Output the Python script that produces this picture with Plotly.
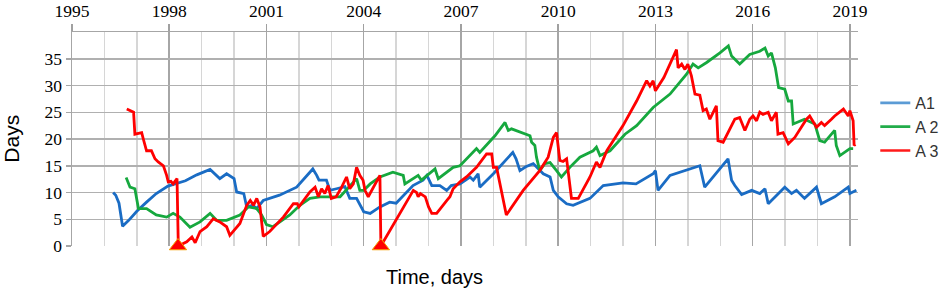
import plotly.graph_objects as go

# ---------------- data ----------------
year_ticks = [1995, 1998, 2001, 2004, 2007, 2010, 2013, 2016, 2019]
day_ticks = [0, 5, 10, 15, 20, 25, 30, 35]

a1_x = [1996.27, 1996.35, 1996.45, 1996.56, 1996.75, 1997.0, 1997.3, 1997.6, 1997.96, 1998.25,
        1998.5, 1998.85, 1999.26, 1999.56, 1999.77, 2000.0, 2000.08, 2000.3, 2000.39, 2000.58,
        2000.7, 2000.9, 2001.4, 2001.93, 2002.43, 2002.55, 2002.62, 2002.85, 2002.96, 2003.16,
        2003.42, 2003.57, 2003.78, 2004.0, 2004.2, 2004.5, 2004.8, 2005.0, 2005.52, 2005.83,
        2005.95, 2006.1, 2006.35, 2006.56, 2006.7, 2006.97, 2007.28, 2007.38, 2007.53, 2007.58,
        2008.0, 2008.6, 2008.7, 2008.82, 2009.0, 2009.23, 2009.54, 2009.75, 2009.85, 2010.0,
        2010.26, 2010.46, 2010.98, 2011.39, 2012.0, 2012.4, 2012.93, 2013.0, 2013.08, 2013.45,
        2014.37, 2014.52, 2015.24, 2015.35, 2015.45, 2015.66, 2015.97, 2016.22, 2016.38, 2016.48,
        2016.99, 2017.2, 2017.35, 2017.6, 2017.97, 2018.12, 2018.53, 2018.95, 2019.0, 2019.2]
a1_y = [10.0, 9.5, 8.0, 3.7, 4.8, 6.5, 8.2, 9.8, 11.2, 11.8,
        12.2, 13.3, 14.3, 12.6, 13.5, 12.6, 10.1, 9.8, 7.3, 7.6,
        7.0, 8.5, 9.5, 11.0, 14.4, 13.2, 12.3, 12.3, 10.4, 10.7,
        11.1, 8.9, 8.9, 6.4, 6.1, 7.3, 8.2, 8.0, 11.3, 12.3,
        13.2, 11.3, 11.3, 10.4, 11.3, 11.6, 12.9, 12.3, 13.5, 11.0,
        13.5, 17.5, 16.3, 14.1, 14.8, 15.4, 13.5, 12.9, 10.4, 9.2,
        7.9, 7.6, 8.9, 11.3, 11.8, 11.6, 13.5, 14.1, 10.4, 13.2,
        15.0, 11.0, 16.3, 12.3, 11.3, 9.6, 10.4, 9.8, 10.7, 7.9,
        11.0, 9.8, 10.4, 8.9, 11.0, 7.9, 9.2, 11.0, 9.8, 10.4]

a2_x = [1996.67, 1996.79, 1996.94, 1997.0, 1997.05, 1997.3, 1997.6, 1997.92, 1998.12, 1998.33,
        1998.64, 1998.95, 1999.26, 1999.46, 1999.77, 2000.18, 2000.44, 2000.7, 2000.85, 2001.0,
        2001.2, 2001.72, 2002.03, 2002.34, 2002.65, 2003.27, 2003.78, 2003.88, 2004.0, 2004.2,
        2004.5, 2004.9, 2005.22, 2005.27, 2005.68, 2005.78, 2006.2, 2006.3, 2006.76, 2006.97,
        2007.48, 2007.58, 2008.05, 2008.36, 2008.46, 2008.56, 2009.13, 2009.18, 2009.28, 2009.33,
        2009.43, 2009.59, 2009.75, 2009.95, 2010.1, 2010.36, 2010.67, 2011.08, 2011.18, 2011.29,
        2011.6, 2012.06, 2012.42, 2012.93, 2013.45, 2013.96, 2014.16, 2014.32, 2014.58, 2014.99,
        2015.25, 2015.35, 2015.6, 2015.91, 2016.22, 2016.38, 2016.48, 2016.58, 2016.7, 2016.8,
        2016.99, 2017.1, 2017.2, 2017.25, 2017.6, 2017.92, 2018.07, 2018.22, 2018.53, 2018.58,
        2018.69, 2019.0, 2019.1]
a2_y = [12.8, 11.0, 10.7, 8.9, 7.0, 7.0, 5.8, 5.4, 6.1, 5.4,
        3.5, 4.5, 6.1, 4.8, 4.8, 5.8, 7.3, 7.0, 5.8, 4.0,
        3.6, 5.8, 7.6, 8.9, 9.2, 9.2, 12.6, 10.4, 10.4, 11.6,
        12.9, 13.8, 13.2, 11.6, 13.2, 12.3, 14.4, 12.6, 14.7, 15.0,
        18.2, 17.5, 20.6, 23.1, 21.6, 21.9, 20.6, 19.4, 18.8, 16.6,
        14.1, 15.4, 15.6, 14.1, 12.9, 14.7, 16.6, 17.8, 18.5, 16.9,
        17.8, 20.9, 22.5, 25.9, 28.4, 32.1, 34.0, 33.3, 34.3, 36.1,
        37.4, 35.5, 34.0, 35.8, 36.4, 37.0, 35.5, 36.1, 33.3, 29.6,
        29.3, 27.1, 27.1, 22.8, 23.7, 22.8, 19.7, 19.4, 21.6, 18.8,
        16.9, 18.2, 18.2]

a3_x = [1996.69, 1996.9, 1996.94, 1997.05, 1997.15, 1997.2, 1997.3, 1997.45, 1997.56, 1997.66,
        1997.82, 1997.92, 1997.97, 1998.05, 1998.12, 1998.24, 1998.26, 1998.28, 1998.54, 1998.7,
        1998.8, 1998.95, 1999.16, 1999.36, 1999.56, 1999.77, 1999.87, 2000.18, 2000.39, 2000.5,
        2000.6, 2000.7, 2000.8, 2000.9, 2001.1, 2001.52, 2001.83, 2001.95, 2002.0, 2002.34,
        2002.5, 2002.6, 2002.7, 2002.8, 2002.9, 2003.0, 2003.15, 2003.32, 2003.47, 2003.57,
        2003.68, 2003.78, 2003.88, 2003.98, 2004.04, 2004.14, 2004.5, 2004.53, 2005.53, 2005.63,
        2005.68, 2005.75, 2005.9, 2006.0, 2006.1, 2006.25, 2006.56, 2006.66, 2006.76, 2006.97,
        2007.17, 2007.48, 2007.79, 2007.95, 2008.0, 2008.1, 2008.4, 2008.92, 2009.43, 2009.69,
        2009.85, 2009.95, 2010.05, 2010.15, 2010.26, 2010.31, 2010.41, 2010.62, 2010.98, 2011.18,
        2011.29, 2011.5, 2011.7, 2012.0, 2012.42, 2012.73, 2012.83, 2012.93, 2013.0, 2013.26,
        2013.65, 2013.7, 2013.81, 2013.91, 2014.0, 2014.11, 2014.22, 2014.37, 2014.47, 2014.57,
        2014.68, 2014.88, 2014.93, 2015.09, 2015.45, 2015.6, 2015.76, 2015.91, 2016.01, 2016.12,
        2016.22, 2016.32, 2016.48, 2016.58, 2016.73, 2016.78, 2016.94, 2017.1, 2017.3, 2017.5,
        2017.66, 2017.76, 2017.86, 2017.97, 2018.12, 2018.22, 2018.43, 2018.53, 2018.8, 2018.95,
        2019.0, 2019.1, 2019.13, 2019.17]
a3_y = [25.6, 25.0, 20.9, 21.0, 21.2, 20.0, 17.8, 17.8, 16.3, 15.7,
        15.0, 13.2, 12.0, 12.1, 11.6, 12.6, 0.0, 0.0, 0.8, 1.7,
        0.6, 2.7, 3.6, 5.1, 4.5, 3.6, 2.0, 4.2, 7.6, 8.5,
        7.6, 8.9, 7.3, 1.8, 2.7, 5.4, 7.9, 7.9, 7.3, 10.1,
        11.0, 9.2, 10.7, 9.8, 11.3, 8.9, 9.2, 11.0, 12.9, 10.7,
        11.6, 14.7, 13.2, 12.3, 10.4, 9.2, 13.2, 0.0, 10.4, 10.0,
        9.2, 9.8, 9.2, 7.3, 6.1, 6.1, 8.5, 9.2, 10.7, 12.0,
        12.9, 14.7, 17.2, 17.2, 14.7, 14.7, 5.8, 10.4, 14.1, 16.6,
        20.3, 21.2, 16.0, 15.8, 16.3, 13.5, 8.9, 8.9, 12.9, 15.7,
        14.7, 17.8, 19.7, 22.5, 27.1, 30.9, 29.9, 30.9, 29.0, 31.5,
        36.7, 33.3, 34.0, 33.0, 34.0, 31.8, 28.4, 28.2, 25.3, 25.6,
        23.7, 26.2, 19.7, 19.4, 23.7, 24.0, 21.6, 23.7, 24.3, 23.4,
        25.0, 24.6, 25.0, 23.4, 25.0, 20.9, 21.2, 19.1, 20.3, 22.2,
        23.7, 24.3, 23.4, 22.2, 23.1, 22.5, 23.7, 24.3, 25.6, 24.3,
        25.3, 23.4, 18.8, 19.0]

event_x = [1998.27, 2004.53]
event_y = [0, 0]

names = ["A1", "A 2", "A 3"]
line_colors = ["#1a6cc4", "#16a83e", "#ff0000"]
legend_colors = ["#5b9bd5", "#22ac4a", "#ff1a1a"]

# ---------------- figure ----------------
fig = go.Figure()
series = [(a1_x, a1_y), (a2_x, a2_y), (a3_x, a3_y)]
for (xs, ys), c in zip(series, line_colors):
    fig.add_trace(go.Scatter(x=xs, y=ys, mode="lines", showlegend=False,
                             line=dict(color=c, width=2.8), hoverinfo="skip"))

fig.add_trace(go.Scatter(x=event_x, y=event_y, mode="markers", showlegend=False,
                         cliponaxis=False, hoverinfo="skip",
                         marker=dict(symbol="triangle-up", size=15, color="#ff0000",
                                     line=dict(color="#f5a000", width=1))))

for n, c in zip(names, legend_colors):
    fig.add_trace(go.Scatter(x=[None], y=[None], mode="lines", name=n,
                             line=dict(color=c, width=2.6)))

fig.update_layout(
    width=941, height=289,
    margin=dict(l=72, r=83, t=32, b=43, autoexpand=False),
    paper_bgcolor="white", plot_bgcolor="white",
    showlegend=True, hovermode=False,
    legend=dict(x=1.022, y=0.748, xanchor="left", yanchor="top",
                font=dict(family="Liberation Sans, Arial", size=16, color="#333333"),
                bgcolor="rgba(0,0,0,0)", tracegroupgap=0),
    annotations=[
        dict(text="Time, days", xref="paper", yref="paper", x=0.4606, y=-0.145,
             xanchor="center", yanchor="middle", showarrow=False,
             font=dict(family="Liberation Sans, Arial", size=20, color="black")),
        dict(text="Days", xref="paper", yref="paper", x=-0.078, y=0.5,
             xanchor="center", yanchor="middle", showarrow=False, textangle=-90,
             font=dict(family="Liberation Sans, Arial", size=21, color="black")),
    ],
)

fig.update_xaxes(
    side="top", range=[1995, 2019.25], automargin=False,
    tickmode="array", tickvals=year_ticks, ticktext=[str(v) for v in year_ticks],
    tickfont=dict(family="Liberation Serif, Times New Roman", size=17.5, color="black"),
    ticks="outside", ticklen=7, tickcolor="#a0a0a0", tickwidth=1.5,
    showgrid=True, gridcolor="#a6a6a6", gridwidth=1.5,
    minor=dict(dtick=1, tick0=1995, showgrid=True, gridcolor="#d6d6d6", gridwidth=1.5),
    showline=True, linecolor="#a6a6a6", linewidth=1.5,
    zeroline=False,
)
fig.update_yaxes(
    range=[0, 40], automargin=False, tickmode="array", tickvals=day_ticks,
    ticktext=[str(v) for v in day_ticks],
    tickfont=dict(family="Liberation Serif, Times New Roman", size=17.5, color="black"),
    ticks="outside", ticklen=5, tickcolor="#a6a6a6", tickwidth=1.5,
    showgrid=True, gridcolor="#b0b0b0", gridwidth=1.5,
    minor=dict(dtick=5, tick0=0, showgrid=True, gridcolor="#b0b0b0", gridwidth=1.5),
    showline=True, linecolor="#a6a6a6", linewidth=1.5,
    zeroline=False,
)

# remove the browser's default 8px body margin so the figure fills the window
fig.write_html("out.html",
               config={"displayModeBar": False, "staticPlot": True},
               post_script="document.body.style.margin='0';document.body.style.overflow='hidden';")
